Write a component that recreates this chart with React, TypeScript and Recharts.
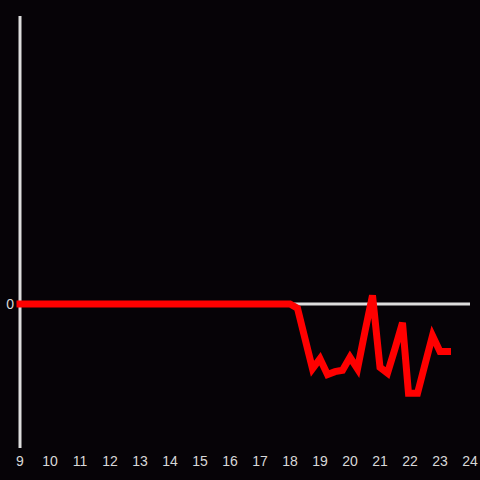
import { Line, LineChart, ReferenceLine, XAxis, YAxis } from "recharts";

const hours = [
  9, 10, 11, 12, 13, 14, 15, 16, 17, 18, 18.25, 18.5, 18.75, 19, 19.25, 19.5,
  19.75, 20, 20.25, 20.5, 20.75, 21, 21.25, 21.5, 21.75, 21.95, 22.25, 22.5,
  22.75, 23, 23.25,
];
const values = [
  0, 0, 0, 0, 0, 0, 0, 0, 0, 0, -0.03, -0.24, -0.45, -0.38, -0.49, -0.47, -0.46,
  -0.37, -0.45, -0.19, 0.06, -0.44, -0.48, -0.31, -0.13, -0.62, -0.62, -0.42,
  -0.22, -0.33, -0.33,
];
const xTicks = [9, 10, 11, 12, 13, 14, 15, 16, 17, 18, 19, 20, 21, 22, 23, 24];
const yTicks = [0];

const data = hours.map((h, i) => ({ h, v: values[i] }));

export default function App() {
  return (
    <div
      style={{
        position: "absolute",
        left: 0,
        top: 0,
        width: 480,
        height: 480,
        background: "#060307",
        fontFamily: "'Liberation Sans', Arial, sans-serif",
      }}
    >
      <LineChart
        width={480}
        height={480}
        data={data}
        margin={{ top: 16, right: 10, bottom: 0, left: 0 }}
      >
        <XAxis
          dataKey="h"
          type="number"
          domain={[9, 24]}
          ticks={xTicks}
          axisLine={false}
          tickLine={false}
          height={32}
          interval={0}
          tick={{ fill: "#d8d8d8", fontSize: 14 }}
        />
        <YAxis
          type="number"
          domain={[-1, 2]}
          ticks={yTicks}
          width={20}
          axisLine={false}
          tickLine={false}
          tick={{ fill: "#d8d8d8", fontSize: 14, dx: 2 }}
        />
        <ReferenceLine x={9} stroke="#dddddd" strokeWidth={3} zIndex={100} />
        <ReferenceLine y={0} stroke="#dddddd" strokeWidth={3} zIndex={100} />
        <Line
          dataKey="v"
          type="linear"
          stroke="#ff0000"
          strokeWidth={7}
          strokeLinecap="square"
          dot={false}
          isAnimationActive={false}
          zIndex={900}
        />
      </LineChart>
    </div>
  );
}
